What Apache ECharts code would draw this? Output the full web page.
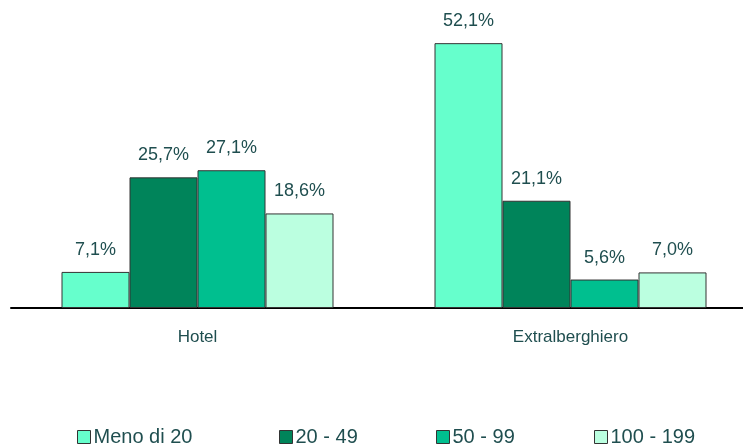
<!DOCTYPE html>
<html><head><meta charset="utf-8">
<script src="https://cdn.jsdelivr.net/npm/echarts@6/dist/echarts.min.js"></script>
<style>html,body{margin:0;padding:0;background:#fff;overflow:hidden}#c{width:757px;height:448px}</style>
</head><body><div id="c"></div>
<script>
const categories = ['Hotel', 'Extralberghiero'];
const seriesNames = ['Meno di 20', '20 - 49', '50 - 99', '100 - 199'];
const menoDi20 = [7.1, 52.1];
const s20_49 = [25.7, 21.1];
const s50_99 = [27.1, 5.6];
const s100_199 = [18.6, 7.0];
const values = [menoDi20, s20_49, s50_99, s100_199];
const colors = ['#66FFCC', '#00845A', '#00BF8F', '#BBFFE0'];
const legendLeft = [77, 279, 436, 594];

const txt = '#1F4E4F';
const font = 'Liberation Sans';

const chart = echarts.init(document.getElementById('c'));
chart.setOption({
  animation: false,
  grid: { left: 11, right: 0, top: 3, height: 305 },
  xAxis: {
    type: 'category', data: categories,
    axisLine: { lineStyle: { color: '#000', width: 2 } },
    axisTick: { show: false },
    axisLabel: { color: txt, fontSize: 17, fontFamily: font, margin: 21 }
  },
  yAxis: { type: 'value', min: 0, max: 60, show: false, splitLine: { show: false } },
  legend: seriesNames.map((n, i) => ({
    data: [n], left: legendLeft[i], top: 427, icon: 'rect', padding: 0,
    itemWidth: 13, itemHeight: 13, itemGap: 0,
    itemStyle: { borderColor: '#333', borderWidth: 1 },
    textStyle: { color: txt, fontSize: 20, fontFamily: font, padding: [0, 0, 0, -2] }
  })),
  series: seriesNames.map((n, i) => ({
    name: n, type: 'bar', data: values[i],
    barWidth: 68, barGap: '0%',
    itemStyle: { color: colors[i], borderColor: '#333', borderWidth: 1 },
    label: {
      show: true, position: 'top', distance: 13,
      color: txt, fontSize: 18, fontFamily: font,
      formatter: p => p.value.toFixed(1).replace('.', ',') + '%'
    }
  }))
});
</script></body></html>
